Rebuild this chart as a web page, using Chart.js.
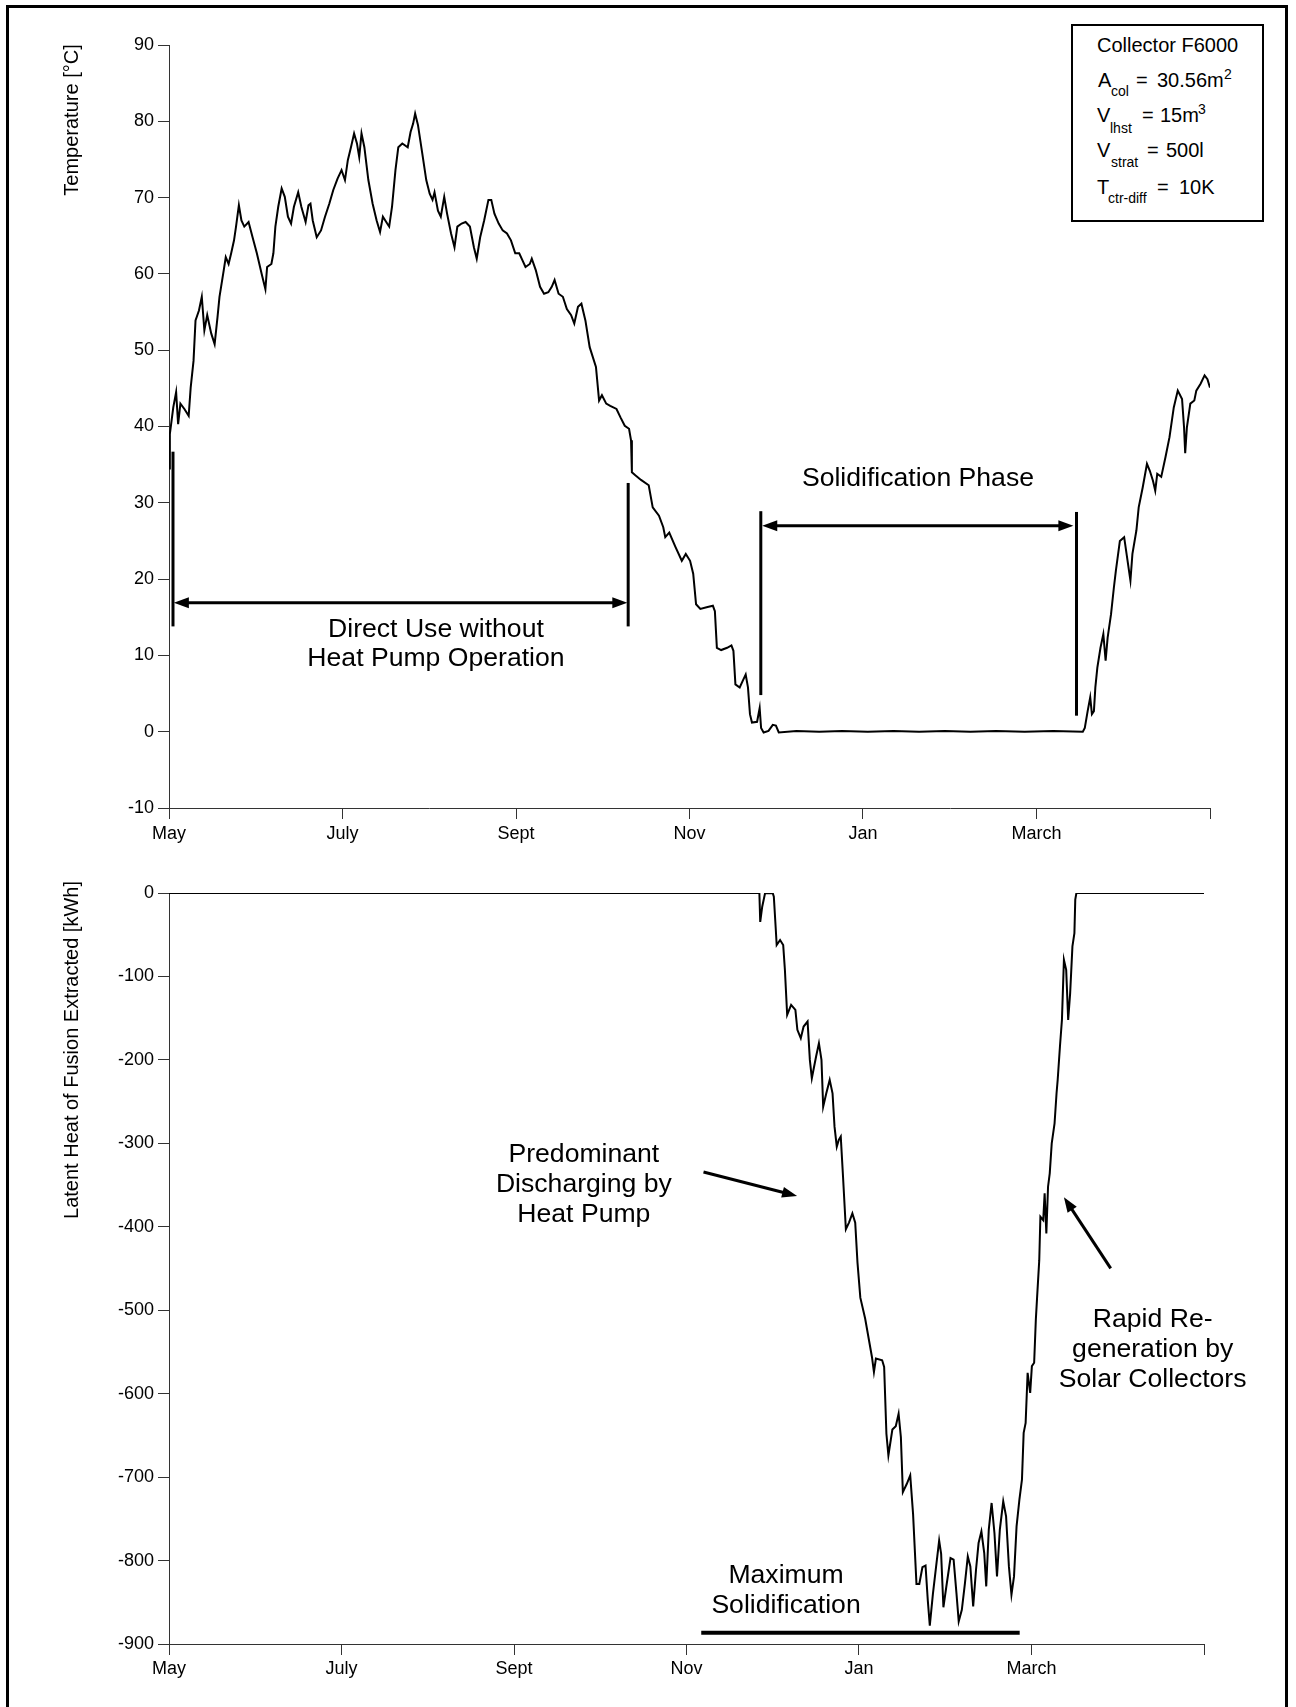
<!DOCTYPE html>
<html>
<head>
<meta charset="utf-8">
<title>Latent heat storage – annual simulation</title>
<script src="https://cdn.jsdelivr.net/npm/chart.js@4.4.1/dist/chart.umd.min.js"></script>
<style>
  html, body { margin: 0; padding: 0; background: #fff; }
  body { width: 1296px; height: 1707px; position: relative; overflow: hidden;
         font-family: 'Liberation Sans', Arial, sans-serif; color: #000; }
  #frame { position: absolute; left: 6px; top: 5px; width: 1276px; height: 1730px;
           border: 3px solid #000; box-sizing: content-box; }
  canvas { position: absolute; left: 0; }
  #c1 { top: 0; }
  #c2 { top: 860px; }
  #params { position: absolute; left: 1071px; top: 24px; width: 189px; height: 194px;
            border: 2px solid #000; background: #fff; }
  .p  { position: absolute; white-space: nowrap; font-size: 20px; line-height: 20px; }
  .ps { position: absolute; white-space: nowrap; font-size: 14px; line-height: 14px; }
</style>
</head>
<body>
<div id="frame"></div>
<canvas id="c1" width="1296" height="860" style="width:1296px;height:860px"></canvas>
<canvas id="c2" width="1296" height="847" style="width:1296px;height:847px"></canvas>

<!-- parameter box of the simulated system -->
<div id="params"></div>
<div class="p"  style="left:1097px;top:35px">Collector F6000</div>
<div class="p"  style="left:1098px;top:70px">A</div>
<div class="ps" style="left:1111px;top:84px">col</div>
<div class="p"  style="left:1136px;top:70px">=</div>
<div class="p"  style="left:1157px;top:70px">30.56m</div>
<div class="ps" style="left:1224px;top:67px">2</div>
<div class="p"  style="left:1097px;top:105px">V</div>
<div class="ps" style="left:1110px;top:121px">lhst</div>
<div class="p"  style="left:1142px;top:105px">=</div>
<div class="p"  style="left:1160px;top:105px">15m</div>
<div class="ps" style="left:1198px;top:102px">3</div>
<div class="p"  style="left:1097px;top:140px">V</div>
<div class="ps" style="left:1111px;top:155px">strat</div>
<div class="p"  style="left:1147px;top:140px">=</div>
<div class="p"  style="left:1166px;top:140px">500l</div>
<div class="p"  style="left:1097px;top:177px">T</div>
<div class="ps" style="left:1108px;top:191px">ctr-diff</div>
<div class="p"  style="left:1157px;top:177px">=</div>
<div class="p"  style="left:1179px;top:177px">10K</div>

<script>
// ---- axis ticks: two-month steps over one simulated year (May to May) ----
const tickDays   = [0, 60.8, 121.7, 182.5, 243.3, 304.2, 365];
const tickMonths = ['May', 'July', 'Sept', 'Nov', 'Jan', 'March', ''];

// ---- storage temperature [°C] over the year (day since 1 May) ----
const tempDay = [
  0, 0.3, 1.5, 2.5, 3.2, 4.0, 5.4, 6.9, 7.6, 8.6, 9.3, 10.5, 11.5, 12.4, 13.4, 14.8, 16.0, 17.0, 17.7,
  19.2, 19.9, 20.9, 21.8, 22.8, 23.5, 24.5, 25.4, 26.4, 27.9, 29.3, 30.8, 32.5, 33.8, 34.4, 35.9, 36.6,
  37.3, 38.3, 39.5, 40.6, 41.7, 42.8, 43.8, 45.3, 46.4, 47.9, 48.9, 49.6, 50.4, 51.8, 53.3, 54.7, 56.2,
  57.6, 59.1, 60.5, 61.7, 62.7, 63.8, 64.9, 65.9, 66.7, 67.5, 68.5, 69.9, 71.4, 72.8, 74.0, 75.0, 76.5,
  77.2, 78.2, 79.4, 80.4, 81.8, 83.7, 84.7, 85.6, 86.3, 87.3, 88.8, 90.2, 91.4, 92.4, 93.1, 94.3, 95.3,
  96.5, 97.5, 98.9, 100.1, 101.1, 102.6, 104.0, 105.5, 106.9, 107.9, 109.1, 110.5, 112.0, 113.0, 114.1,
  115.6, 117.0, 118.5, 119.9, 121.4, 122.8, 123.9, 125.0, 126.5, 127.2, 128.6, 130.1, 131.5, 133.0,
  134.2, 135.2, 136.6, 138.1, 139.5, 141.0, 142.1, 143.4, 144.6, 146.0, 147.5, 149.7, 150.8, 151.8,
  153.3, 154.7, 156.9, 158.3, 159.8, 161.3, 162.0, 162.3, 163.5, 165.5, 168.2, 169.6, 171.8, 173.3,
  174.0, 175.4, 177.6, 179.8, 181.2, 182.7, 183.8, 184.8, 186.3, 188.5, 190.7, 191.4, 192.1, 193.6,
  195.7, 197.2, 197.9, 198.6, 200.1, 201.2, 202.2, 203.0, 203.7, 204.4, 206.2, 207.1, 207.6, 208.5,
  210.2, 211.7, 212.8, 213.8, 220, 228, 236, 245, 254, 263, 272, 281, 290, 300, 310, 320.4,
  321.1, 322.1, 323.0, 323.6, 324.3, 324.8, 325.5, 326.6, 327.6, 328.4, 329.1, 330.3, 331.3, 332.0,
  333.4, 334.9, 336.1, 337.1, 337.8, 339.2, 340.0, 341.4, 342.9, 343.9, 345.0, 345.8, 346.5, 347.9,
  349.4, 350.8, 352.3, 353.7, 355.2, 355.9, 356.3, 356.9, 358.1, 359.5, 360.2, 361.7, 363.1, 364.1, 365
];
const tempValue = [
  34.5, 39.0, 42.5, 44.5, 40.3, 43.0, 42.3, 41.4, 45.1, 48.6, 53.9, 55.2, 57.0, 52.6, 54.6, 52.2, 50.8, 54.3, 57.0,
  60.5, 62.2, 61.3, 62.7, 64.4, 66.2, 69.0, 67.0, 66.2, 66.8, 64.8, 62.7, 60.0, 58.0, 60.9, 61.3, 62.7,
  66.2, 68.8, 71.2, 70.1, 67.5, 66.6, 68.8, 70.7, 68.8, 66.8, 69.0, 69.2, 67.0, 64.8, 65.7, 67.5, 69.2,
  71.0, 72.5, 73.6, 72.3, 74.9, 76.6, 78.4, 77.1, 75.3, 78.4, 76.6, 72.3, 69.2, 67.0, 65.5, 67.5, 66.6,
  66.2, 68.8, 73.6, 76.6, 77.1, 76.6, 78.6, 79.7, 81.0, 79.5, 75.8, 72.3, 70.5, 69.7, 70.7, 68.3, 67.5,
  70.1, 67.9, 65.3, 63.5, 66.2, 66.6, 66.8, 66.2, 63.5, 62.0, 64.8, 67.0, 69.7, 69.7, 67.9,
  66.6, 65.7, 65.3, 64.4, 62.7, 62.7, 61.8, 60.9, 61.3, 62.0, 60.5, 58.3, 57.4, 57.6,
  58.3, 59.2, 57.4, 57.0, 55.4, 54.6, 53.5, 55.7, 56.1, 53.9, 50.4, 47.8, 43.4, 44.1,
  43.0, 42.7, 42.3, 41.2, 40.1, 39.7, 38.2, 34.0, 33.6, 33.0, 32.3, 29.4, 28.3, 26.8,
  25.5, 26.1, 24.2, 22.4, 23.3, 22.4, 20.7, 16.7, 16.1, 16.3, 16.5, 15.8, 11.0, 10.7,
  11.0, 11.3, 10.6, 6.2, 5.8, 6.7, 7.5, 5.8, 2.3, 1.2, 1.3, 3.1, 0.5, -0.1,
  0.1, 0.9, 0.8, -0.1, 0.1, 0.0, 0.1, 0.0, 0.1, 0.0, 0.1, 0.0, 0.1, 0.0, 0.1, 0.0,
  0.5, 2.7, 4.5, 2.3, 2.7, 5.8, 8.4, 11.0, 12.8, 9.3, 12.3, 15.4, 18.9, 21.1,
  25.0, 25.5, 22.4, 19.8, 23.3, 26.4, 29.4, 32.0, 35.1, 34.2, 32.9, 31.6, 33.8, 33.4,
  36.0, 38.6, 42.5, 44.7, 43.6, 39.9, 36.5, 39.9, 43.0, 43.4, 44.7, 45.6, 46.7, 46.2, 45.1
];

// ---- latent heat of fusion extracted from the ice store [kWh] ----
const heatDay = [
  0, 208.2, 208.5, 209.2, 210.2, 212.9, 213.3, 214.0, 214.3, 215.5, 216.6, 217.2, 218.0, 219.4, 220.9,
  221.6, 222.8, 223.8, 225.2, 226.0, 226.7, 228.2, 229.2, 230.1, 230.7, 231.8, 233.0, 234.0, 234.7,
  235.5, 236.2, 236.9, 237.7, 238.7, 239.8, 241.0, 242.0, 242.8, 243.8, 245.5, 247.9, 248.6, 249.3,
  251.5, 252.2, 253.0, 253.7, 255.1, 256.3, 257.3, 258.1, 258.8, 260.2, 261.4, 262.4, 263.6, 264.6,
  265.7, 266.8, 267.6, 268.3, 269.4, 270.5, 271.6, 272.3, 273.1, 274.1, 275.6, 276.7, 277.7, 278.5,
  279.6, 280.7, 281.7, 282.6, 283.6, 284.6, 285.5, 286.5, 287.5, 288.2, 289.1, 290.1, 291.1, 292.0,
  293.0, 294.2, 295.2, 296.2, 297.1, 298.0, 298.9, 299.9, 300.8, 301.4, 302.1, 302.8, 303.7, 304.3,
  305.1, 305.7, 306.1, 306.9, 307.3, 308.3, 308.8, 309.4, 310.0, 310.6, 311.3, 312.3, 313.0, 313.4,
  314.2, 314.9, 315.6, 316.4, 317.1, 317.8, 318.6, 319.3, 319.6, 320.0, 365
];
const heatValue = [
  0, 0, -34.6, -16.4, -0.4, 0, -4.4, -44.3, -62.3, -56.3, -62.3, -92, -146, -134, -140,
  -164, -174, -160, -154, -200, -222, -196, -180, -200, -256, -240, -224, -240, -280,
  -304, -296, -292, -340, -403, -395, -384, -395, -443, -485, -510, -556, -574, -558,
  -560, -568, -648, -674, -643, -639, -624, -652, -718, -708, -698, -744, -828, -828,
  -808, -806, -848, -878, -840, -808, -776, -792, -856, -832, -797, -799, -839, -873,
  -859, -827, -795, -807, -855, -811, -779, -765, -791, -831, -763, -731, -767, -819,
  -763, -729, -747, -807, -841, -819, -759, -727, -703, -647, -635, -575, -599, -567,
  -563, -511, -487, -440, -388, -392, -360, -408, -352, -336, -300, -276, -240, -224,
  -184, -152, -80, -92, -152, -120, -64, -48, -8, 0, 0
];

const FONT = "'Liberation Sans', Arial, sans-serif";
Chart.defaults.font.family = FONT;
Chart.defaults.color = '#000';

// arrow head (filled triangle) at (x2, y2) pointing away from (x1, y1)
function head(ctx, x1, y1, x2, y2, len, half) {
  const a = Math.atan2(y2 - y1, x2 - x1), c = Math.cos(a), s = Math.sin(a);
  ctx.beginPath();
  ctx.moveTo(x2, y2);
  ctx.lineTo(x2 - len * c + half * s, y2 - len * s - half * c);
  ctx.lineTo(x2 - len * c - half * s, y2 - len * s + half * c);
  ctx.closePath();
  ctx.fill();
}

// annotation layer: phase markers, arrows, captions and the vertical axis title
const notes = {
  id: 'notes',
  afterDraw(chart, args, o) {
    const ctx = chart.ctx, xs = chart.scales.x, ys = chart.scales.y;
    const X = v => xs.getPixelForValue(v), Y = v => ys.getPixelForValue(v);
    ctx.save();
    ctx.strokeStyle = '#000';
    ctx.fillStyle = '#000';
    ctx.lineCap = 'butt';
    (o.bars || []).forEach(b => {
      ctx.lineWidth = b.w;
      ctx.beginPath();
      if (b.x !== undefined) { ctx.moveTo(X(b.x), Y(b.y1)); ctx.lineTo(X(b.x), Y(b.y2)); }
      else { ctx.moveTo(X(b.x1), Y(b.y)); ctx.lineTo(X(b.x2), Y(b.y)); }
      ctx.stroke();
    });
    (o.arrows || []).forEach(a => {
      const x1 = X(a.x1), y1 = Y(a.y1), x2 = X(a.x2), y2 = Y(a.y2);
      const L = 15, H = 5.5, d = Math.hypot(x2 - x1, y2 - y1);
      const ux = (x2 - x1) / d, uy = (y2 - y1) / d;
      ctx.lineWidth = 3;
      ctx.beginPath();
      ctx.moveTo(a.both ? x1 + ux * (L - 2) : x1, a.both ? y1 + uy * (L - 2) : y1);
      ctx.lineTo(x2 - ux * (L - 2), y2 - uy * (L - 2));
      ctx.stroke();
      head(ctx, x1, y1, x2, y2, L, H);
      if (a.both) head(ctx, x2, y2, x1, y1, L, H);
    });
    ctx.textAlign = 'center';
    ctx.textBaseline = 'alphabetic';
    (o.texts || []).forEach(t => {
      ctx.font = t.size + 'px ' + FONT;
      t.lines.forEach((line, i) => ctx.fillText(line, X(t.x), Y(t.y) + i * t.lh));
    });
    if (o.title) {
      ctx.font = o.title.size + 'px ' + FONT;
      ctx.textBaseline = 'middle';
      ctx.translate(o.title.x, chart.chartArea.top + o.title.dy);
      ctx.rotate(-Math.PI / 2);
      ctx.fillText(o.title.text, 0, 0);
    }
    ctx.restore();
  }
};

function xAxis(height, pad) {
  return {
    type: 'linear', min: 0, max: 365,
    afterBuildTicks: ax => { ax.ticks = tickDays.map(v => ({ value: v })); },
    afterFit: ax => { ax.height = height; },
    ticks: { callback: (v, i) => tickMonths[i], autoSkip: false, maxRotation: 0,
             padding: pad, font: { size: 18 }, color: '#000' },
    grid: { drawOnChartArea: false, drawTicks: true, tickLength: 11, color: '#333', lineWidth: 1 },
    border: { display: true, color: '#333', width: 1 }
  };
}
function yAxis(min, max, step) {
  return {
    min, max,
    afterFit: ax => { ax.width = 169; },
    ticks: { stepSize: step, padding: 4, font: { size: 18 }, color: '#000' },
    grid: { drawOnChartArea: false, drawTicks: true, tickLength: 11, color: '#333', lineWidth: 1 },
    border: { display: true, color: '#333', width: 1 }
  };
}
const common = {
  responsive: false, animation: false, devicePixelRatio: 1,
  plugins: { legend: { display: false }, tooltip: { enabled: false } },
  elements: { point: { radius: 0 }, line: { tension: 0 } }
};

// ---- upper panel: storage temperature ----
new Chart(document.getElementById('c1'), {
  type: 'line',
  data: { datasets: [{ data: tempDay.map((d, i) => ({ x: d, y: tempValue[i] })),
                       borderColor: '#000', borderWidth: 2 }] },
  options: Object.assign({}, common, {
    layout: { padding: { left: 0, top: 45, right: 86, bottom: 0 } },
    scales: { x: xAxis(52, 4), y: yAxis(-10, 90, 10) },
    plugins: Object.assign({}, common.plugins, {
      notes: {
        bars: [
          { x: 1.4, y1: 36.7, y2: 13.8, w: 3 },
          { x: 161, y1: 32.6, y2: 13.8, w: 3 },
          { x: 207.5, y1: 28.9, y2: 4.8, w: 3 },
          { x: 318.2, y1: 28.8, y2: 2.1, w: 3 }
        ],
        arrows: [
          { x1: 1.7, y1: 16.9, x2: 160.7, y2: 16.9, both: true },
          { x1: 208, y1: 27.0, x2: 317.1, y2: 27.0, both: true }
        ],
        texts: [
          { x: 93.6, y: 12.4, size: 26.6, lh: 29, lines: ['Direct Use without', 'Heat Pump Operation'] },
          { x: 262.6, y: 32.2, size: 26.6, lh: 29, lines: ['Solidification Phase'] }
        ],
        title: { text: 'Temperature [°C]', x: 72, dy: 75, size: 20 }
      }
    })
  }),
  plugins: [notes]
});

// ---- lower panel: latent heat of fusion extracted ----
new Chart(document.getElementById('c2'), {
  type: 'line',
  data: { datasets: [{ data: heatDay.map((d, i) => ({ x: d, y: heatValue[i] })),
                       borderColor: '#000', borderWidth: 2 }] },
  options: Object.assign({}, common, {
    layout: { padding: { left: 0, top: 33, right: 92, bottom: 0 } },
    scales: { x: xAxis(63, 3), y: yAxis(-900, 0, 100) },
    plugins: Object.assign({}, common.plugins, {
      notes: {
        bars: [ { x1: 187.7, x2: 300, y: -886.5, w: 4 } ],
        arrows: [
          { x1: 188.5, y1: -334.4, x2: 221.5, y2: -363.1 },
          { x1: 332.1, y1: -449.8, x2: 315.6, y2: -364.7 }
        ],
        texts: [
          { x: 146.3, y: -322, size: 26.6, lh: 30, lines: ['Predominant', 'Discharging by', 'Heat Pump'] },
          { x: 346.9, y: -519.8, size: 26.6, lh: 30, lines: ['Rapid Re-', 'generation by', 'Solar Collectors'] },
          { x: 217.6, y: -826.6, size: 26.6, lh: 30, lines: ['Maximum', 'Solidification'] }
        ],
        title: { text: 'Latent Heat of Fusion Extracted [kWh]', x: 72, dy: 157, size: 20 }
      }
    })
  }),
  plugins: [notes]
});
</script>
</body>
</html>
